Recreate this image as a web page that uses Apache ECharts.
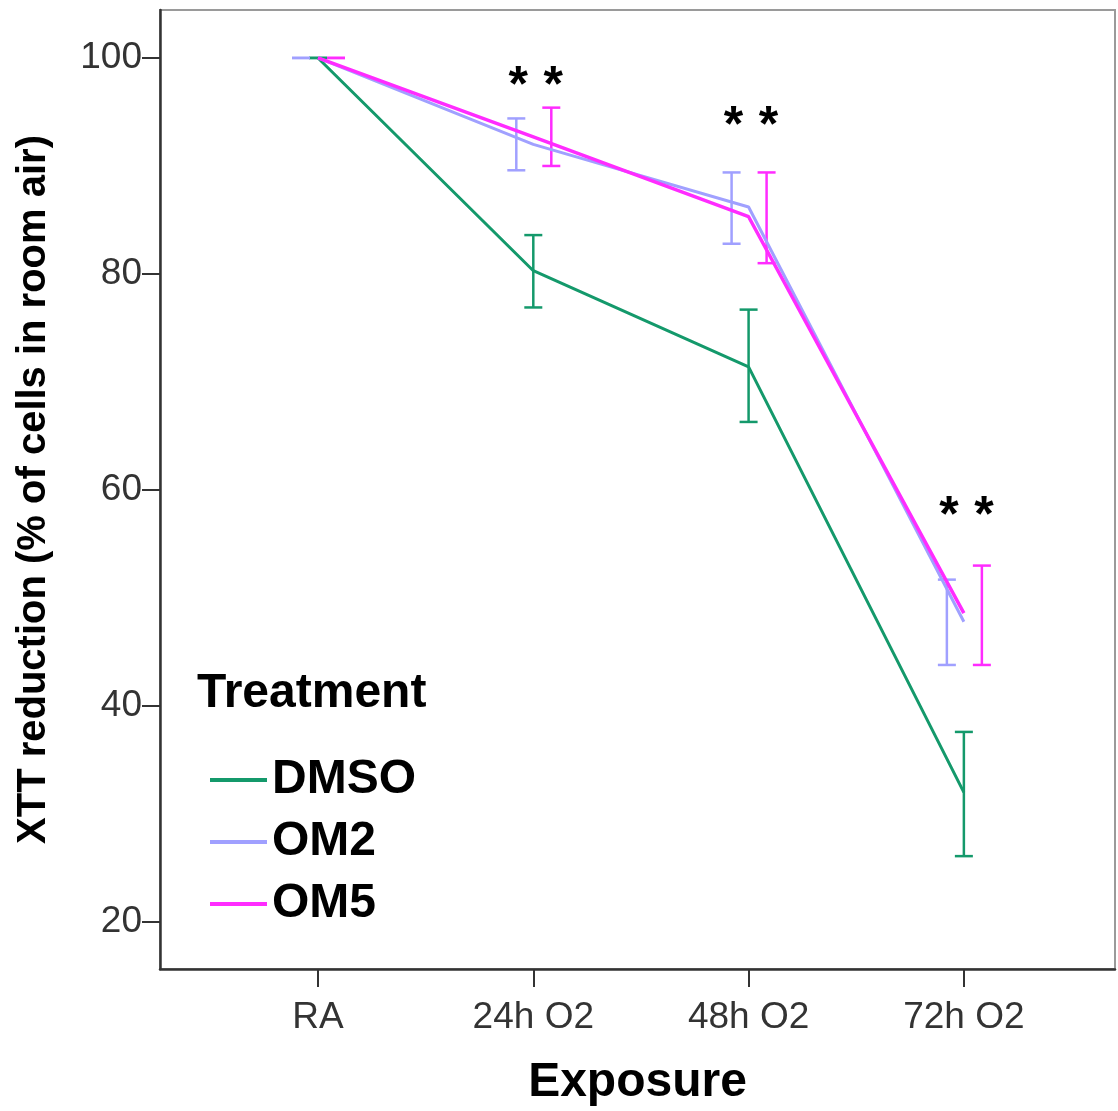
<!DOCTYPE html>
<html>
<head>
<meta charset="utf-8">
<script src="https://cdn.jsdelivr.net/npm/echarts@6/dist/echarts.min.js"></script>
<style>
  html, body { margin: 0; padding: 0; background: #fff; }
  #chart { width: 1118px; height: 1111px; }
</style>
</head>
<body>
<div id="chart"></div>
<script>
// exposure groups
const categories = ['RA', '24h O2', '48h O2', '72h O2']
const yTicks = [20, 40, 60, 80, 100]

// mean XTT reduction per group
const dmsoMean = [100, 80.3, 71.4, 32.0]
const om2Mean = [100, 92.0, 86.2, 47.8]
const om5Mean = [100, 92.7, 85.3, 48.6]

// error bar ends
const dmsoLow = [100, 76.9, 66.3, 26.1]
const dmsoHigh = [100, 83.6, 76.7, 37.6]
const om2Low = [100, 89.6, 82.8, 43.8]
const om2High = [100, 94.4, 89.4, 51.7]
const om5Low = [100, 90.0, 81.0, 43.8]
const om5High = [100, 95.4, 89.4, 53.0]

// significance stars: [group index, value]
const starGroups = [1, 2, 3]
const starValues = [98.1, 94.4, 58.3]

const colors = { DMSO: '#14996b', OM2: '#a0a0ff', OM5: '#ff2cff' }
const dodge = { DMSO: 0, OM2: -17, OM5: 18 }

const chart = echarts.init(document.getElementById('chart'))

const lineSeries = (name, mean, width) => ({
  name,
  type: 'line',
  data: mean.map((v, i) => [i, v]),
  showSymbol: false,
  symbol: 'none',
  lineStyle: { color: colors[name], width },
  itemStyle: { color: colors[name] },
  z: 3
})

const errorSeries = (name, low, high) => ({
  name,
  type: 'custom',
  data: low.map((v, i) => [i, v, high[i]]),
  renderItem: (params, api) => {
    const a = api.coord([api.value(0), api.value(1)])
    const b = api.coord([api.value(0), api.value(2)])
    const x = a[0] + dodge[name]
    const hw = 9
    const style = { stroke: colors[name], lineWidth: 2.5 }
    return {
      type: 'group',
      children: [
        { type: 'line', shape: { x1: x, y1: a[1], x2: x, y2: b[1] }, style },
        { type: 'line', shape: { x1: x - hw, y1: a[1], x2: x + hw, y2: a[1] }, style },
        { type: 'line', shape: { x1: x - hw, y1: b[1], x2: x + hw, y2: b[1] }, style }
      ]
    }
  },
  z: 2
})

const starSeries = {
  type: 'custom',
  data: starGroups.map((g, i) => [g, starValues[i]]),
  renderItem: (params, api) => {
    const p = api.coord([api.value(0), api.value(1)])
    const mk = (dx) => ({
      type: 'text',
      style: {
        text: '*', x: p[0] + dx, y: p[1] + 9,
        align: 'center', verticalAlign: 'middle',
        font: 'bold 50px "Liberation Sans", Arial', fill: '#000'
      }
    })
    return { type: 'group', children: [mk(dodge.OM2 + 2), mk(dodge.OM5 + 2)] }
  },
  silent: true,
  z: 4
}

const option = {
  animation: false,
  textStyle: { fontFamily: '"Liberation Sans", Arial, sans-serif' },
  grid: {
    left: 160, right: 3, top: 10, bottom: 142,
    outerBoundsMode: 'none',
    containLabel: false,
    show: true, borderColor: '#9a9a9a', borderWidth: 2
  },
  legend: {
    data: ['DMSO', 'OM2', 'OM5'],
    orient: 'vertical',
    left: 205,
    top: 750,
    icon: 'rect',
    itemWidth: 57,
    itemHeight: 4,
    itemGap: 12,
    textStyle: { fontSize: 48, fontWeight: 'bold', color: '#000', lineHeight: 50 }
  },
  graphic: [{
    type: 'text',
    left: 197,
    top: 670,
    style: { text: 'Treatment', font: 'bold 48px "Liberation Sans", Arial', fill: '#000' }
  }],
  xAxis: {
    type: 'value',
    min: -0.734,
    max: 3.702,
    name: 'Exposure',
    nameLocation: 'middle',
    nameGap: 90,
    nameTextStyle: { fontSize: 48, fontWeight: 'bold', color: '#000' },
    splitLine: { show: false },
    axisLine: { show: true, onZero: false, lineStyle: { color: '#333', width: 2.5 } },
    axisTick: { show: true, length: 18, customValues: [0, 1, 2, 3], lineStyle: { color: '#333', width: 2 } },
    axisLabel: {
      customValues: [0, 1, 2, 3],
      formatter: (v) => categories[Math.round(v)],
      fontSize: 37, color: '#333', margin: 30
    }
  },
  yAxis: {
    type: 'value',
    min: 15.65,
    max: 104.44,
    name: 'XTT reduction (% of cells in room air)',
    nameLocation: 'middle',
    nameGap: 106,
    nameTextStyle: { fontSize: 40, fontWeight: 'bold', color: '#000' },
    splitLine: { show: false },
    axisLine: { show: true, onZero: false, lineStyle: { color: '#333', width: 2.5 } },
    axisTick: { show: true, length: 18, customValues: yTicks, lineStyle: { color: '#333', width: 2 } },
    axisLabel: { customValues: yTicks, fontSize: 37, color: '#333', margin: 18 }
  },
  series: [
    lineSeries('DMSO', dmsoMean, 3),
    lineSeries('OM2', om2Mean, 3),
    lineSeries('OM5', om5Mean, 3.5),
    errorSeries('DMSO', dmsoLow, dmsoHigh),
    errorSeries('OM2', om2Low, om2High),
    errorSeries('OM5', om5Low, om5High),
    starSeries
  ]
}

chart.setOption(option)
</script>
</body>
</html>
